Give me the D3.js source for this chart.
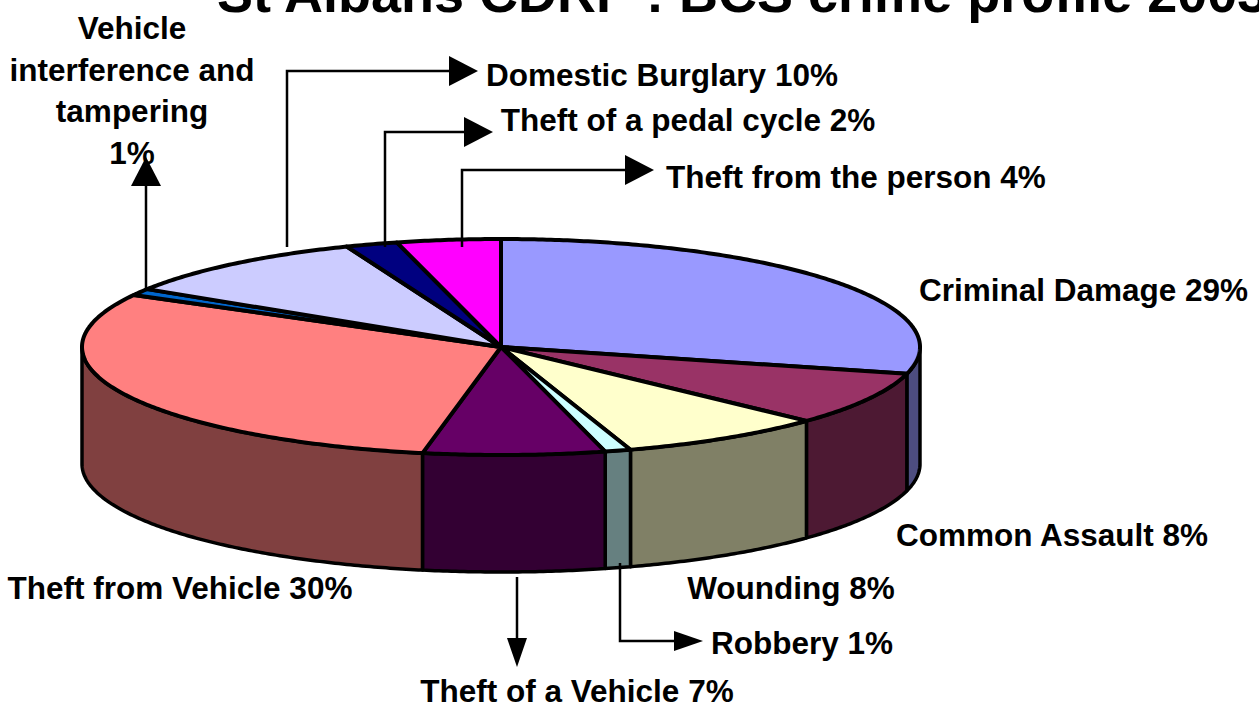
<!DOCTYPE html>
<html>
<head>
<meta charset="utf-8">
<script src="https://d3js.org/d3.v7.min.js"></script>
<style>
	html, body { margin: 0; background: #fff; }
	svg { display: block; }
	text { font-family: "Liberation Sans", Arial, sans-serif; font-weight: bold; fill: #000; }
</style>
</head>
<body>
<svg id="chart" width="1259" height="704"></svg>
<script>
var titleText = "St Albans CDRP : BCS crime profile 2003";
var categories = ["Criminal Damage", "Common Assault", "Wounding", "Robbery", "Theft of a Vehicle",
	"Theft from Vehicle", "Vehicle interference and tampering", "Domestic Burglary", "Theft of a pedal cycle", "Theft from the person"];
var values = [29, 8, 8, 1, 7, 30, 1, 10, 2, 4];
var topColors = ["#9999FF", "#993366", "#FFFFCC", "#CCFFFF", "#660066", "#FF8080", "#0066CC", "#CCCCFF", "#000080", "#FF00FF"];
var sideColors = ["#4D4D80", "#4D1933", "#808066", "#668080", "#330033", "#804040", "#003366", "#666680", "#000040", "#800080"];

// label placement, same order as categories
var labelX = [1083.5, 1052, 791, 802, 577, 180, 132, 662, 688, 856];
var labelY = [301, 546, 599, 654, 702, 599, 39, 86, 131, 188];

// leader lines, the last point is the arrow tip
var leaders = [
	[[287, 247], [287, 71], [478, 71]],
	[[385, 247], [385, 132], [493, 132]],
	[[462, 247], [462, 170], [654, 170]],
	[[146, 290], [146, 157]],
	[[517, 577], [517, 667]],
	[[620, 563], [620, 641], [703, 641]]
];
var headWidths = [15, 15, 15, 15, 10, 10];

var cx = 501, cy = 347, rx = 419, ry = 108, depth = 117;

var svg = d3.select("#chart");

var x = d3.scaleLinear().domain([-1, 1]).range([cx - rx, cx + rx]);
var y = d3.scaleLinear().domain([-1, 1]).range([cy - ry, cy + ry]);

var line = d3.line();

// points along the rim between two pie angles, dy pushes them down to the base
function rim(a0, a1, dy) {
	var n = Math.max(2, Math.ceil((a1 - a0) / 0.01));
	return d3.range(n + 1).map(function(i) {
		var a = a0 + (a1 - a0) * i / n;
		return [x(Math.sin(a)), y(-Math.cos(a)) + dy];
	});
}

var pie = d3.pie().sort(null).value(function(d) { return d; });
var slices = pie(values);

// side walls first, only the front half of the rim shows
svg.append("g").selectAll("path")
	.data(slices.filter(function(d) { return d.endAngle > Math.PI / 2 && d.startAngle < Math.PI * 1.5; }))
	.enter().append("path")
	.attr("d", function(d) {
		var a0 = Math.max(d.startAngle, Math.PI / 2);
		var a1 = Math.min(d.endAngle, Math.PI * 1.5);
		return line(rim(a0, a1, 0).concat(rim(a0, a1, depth).reverse())) + "Z";
	})
	.attr("fill", function(d) { return sideColors[d.index]; })
	.attr("stroke", "#000")
	.attr("stroke-width", 3.5)
	.attr("stroke-linejoin", "round");

// top of the pie
svg.append("g").selectAll("path")
	.data(slices)
	.enter().append("path")
	.attr("d", function(d) {
		return line([[x(0), y(0)]].concat(rim(d.startAngle, d.endAngle, 0))) + "Z";
	})
	.attr("fill", function(d) { return topColors[d.index]; })
	.attr("stroke", "#000")
	.attr("stroke-width", 4)
	.attr("stroke-linejoin", "round");

// labels
var labelRows = categories.map(function(c, i) { return { text: c + " " + values[i] + "%", i: i }; })
	.filter(function(d) { return d.i !== 6; });

svg.append("g").selectAll("text")
	.data(labelRows)
	.enter().append("text")
	.attr("x", function(d) { return labelX[d.i]; })
	.attr("y", function(d) { return labelY[d.i]; })
	.attr("text-anchor", "middle")
	.attr("font-size", 31.5)
	.text(function(d) { return d.text; });

// the small wedge label wraps over four rows
var wrapped = ["Vehicle", "interference and", "tampering", values[6] + "%"];
svg.append("g").selectAll("text")
	.data(wrapped)
	.enter().append("text")
	.attr("x", labelX[6])
	.attr("y", function(d, i) { return labelY[6] + i * 41.5; })
	.attr("text-anchor", "middle")
	.attr("font-size", 31.5)
	.text(function(d) { return d; });

// leaders
svg.append("g").selectAll("path")
	.data(leaders)
	.enter().append("path")
	.attr("d", function(d) {
		// stop the line inside the head so the tip stays sharp
		var pts = d.slice();
		var p = pts[pts.length - 1], q = pts[pts.length - 2];
		var len = Math.hypot(p[0] - q[0], p[1] - q[1]);
		pts[pts.length - 1] = [p[0] - (p[0] - q[0]) / len * 20, p[1] - (p[1] - q[1]) / len * 20];
		return line(pts);
	})
	.attr("fill", "none")
	.attr("stroke", "#000")
	.attr("stroke-width", 2.5);

svg.append("g").selectAll("path")
	.data(leaders)
	.enter().append("path")
	.attr("d", function(d, i) {
		return "M0,0L-29," + (-headWidths[i]) + "L-29," + headWidths[i] + "Z";
	})
	.attr("transform", function(d) {
		var p = d[d.length - 1], q = d[d.length - 2];
		var ang = Math.atan2(p[1] - q[1], p[0] - q[0]) * 180 / Math.PI;
		return "translate(" + p[0] + "," + p[1] + ") rotate(" + ang + ")";
	})
	.attr("fill", "#000");

svg.append("text")
	.attr("x", 217)
	.attr("y", 12)
	.attr("font-size", 54)
	.text(titleText);
</script>
</body>
</html>
